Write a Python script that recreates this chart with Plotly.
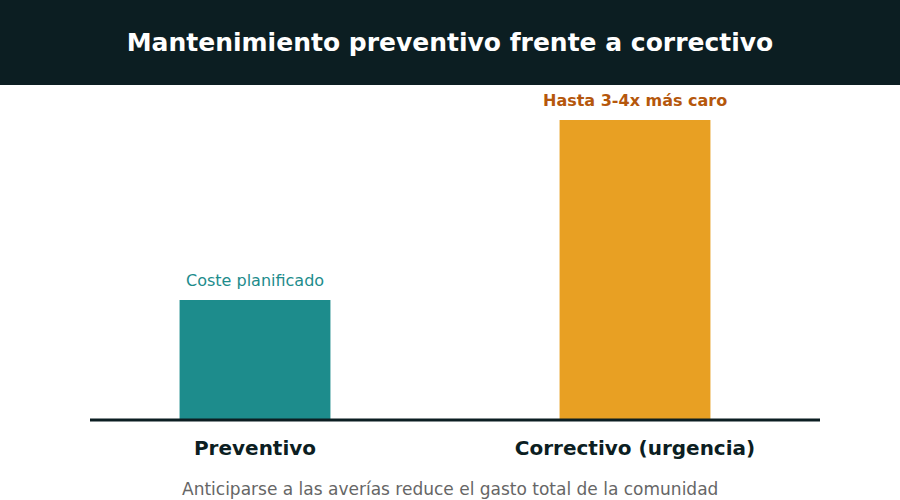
import plotly.graph_objects as go

categories = ["Preventivo", "Correctivo (urgencia)"]
values = [40, 100]
bar_colors = ["#1d8c8c", "#e8a023"]
labels = ["Coste planificado", "Hasta 3-4x más caro"]
label_colors = ["#1d8c8c", "#b5570c"]
label_bold = [False, True]

title_text = "Mantenimiento preventivo frente a correctivo"
footer_text = "Anticiparse a las averías reduce el gasto total de la comunidad"

FONT = "DejaVu Sans"

fig = go.Figure()
fig.add_trace(go.Bar(
    x=categories, y=values,
    marker=dict(color=bar_colors, line=dict(width=0)),
    width=0.397, hoverinfo="skip",
))

for cat, val, txt, col, b in zip(categories, values, labels, label_colors, label_bold):
    fig.add_annotation(
        x=cat, y=val, xref="x", yref="y",
        text=f"<b>{txt}</b>" if b else txt,
        showarrow=False, yanchor="bottom", yshift=8,
        font=dict(family=FONT, size=16, color=col),
    )

# header band
fig.add_shape(type="rect", xref="paper", yref="paper",
              x0=-0.2, x1=1.2, y0=1 + 35 / 300, y1=1.6,
              fillcolor="#0c1e22", line=dict(width=0), layer="below")
# baseline
fig.add_shape(type="line", xref="paper", yref="paper",
              x0=(90 - 65) / 760, x1=(820 - 65) / 760, y0=0, y1=0,
              line=dict(color="#0c1e22", width=3))

fig.add_annotation(
    x=(450 - 65) / 760, y=-(489 - 420) / 300, xref="paper", yref="paper",
    text=footer_text, showarrow=False, xanchor="center", yanchor="middle",
    font=dict(family=FONT, size=17, color="#666666"),
)

fig.update_layout(
    width=900, height=500,
    margin=dict(l=65, r=75, t=120, b=80),
    paper_bgcolor="white", plot_bgcolor="white",
    showlegend=False,
    title=dict(text=f"<b>{title_text}</b>", x=0.5, xanchor="center",
               y=1 - 42 / 500, yanchor="middle",
               font=dict(family=FONT, size=25, color="white")),
    font=dict(family=FONT),
    xaxis=dict(range=[-0.5, 1.5], showgrid=False, zeroline=False, showline=False,
               ticks="", ticklabelstandoff=14,
               tickfont=dict(family=FONT, size=20, color="#0c1e22"),
               tickprefix="<b>", ticksuffix="</b>", fixedrange=True),
    yaxis=dict(range=[0, 100], visible=False, fixedrange=True),
)

fig.write_html("out.html", config={"displayModeBar": False},
               post_script="document.body.style.margin='0';")
